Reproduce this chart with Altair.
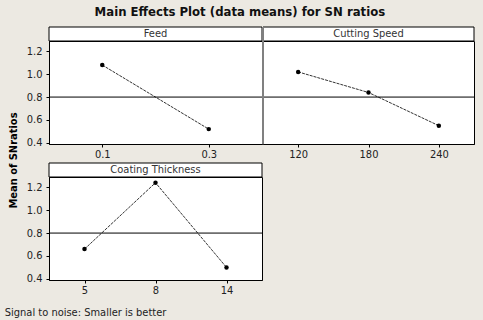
import altair as alt
import pandas as pd

# ---- data ----
feed_levels = ["0.1", "0.3"]
feed_sn = [1.08, 0.52]
speed_levels = ["120", "180", "240"]
speed_sn = [1.02, 0.84, 0.55]
coat_levels = ["5", "8", "14"]
coat_sn = [0.66, 1.24, 0.50]
grand_mean = [0.80]
y_ticks = [0.4, 0.6, 0.8, 1.0, 1.2]
y_domain = [0.39, 1.29]

FONT = "DejaVu Sans Condensed"
PLOT_H = 103
STRIP_H = 14


def panel(name, levels, values, w, show_y, divider=False):
    df = pd.DataFrame({"level": levels, "sn": values})
    x = alt.X(
        "level:O",
        sort=levels,
        scale=alt.Scale(type="point", padding=0.5),
        axis=alt.Axis(title=None, labelAngle=0, tickSize=3, labelPadding=1,
                      domainColor="black", tickColor="black"),
    )
    yscale = alt.Scale(domain=y_domain, nice=False, zero=False)
    if show_y:
        yaxis = alt.Axis(values=y_ticks, format=".1f", title=None, tickSize=3,
                         labelPadding=4, domainColor="black", tickColor="black",
                         grid=False)
    else:
        yaxis = None
    y = alt.Y("sn:Q", scale=yscale, axis=yaxis)
    base = alt.Chart(df)
    line = base.mark_line(color="#333333", strokeWidth=1, strokeDash=[3, 1]).encode(x=x, y=y)
    pts = base.mark_circle(size=20, color="black", opacity=1).encode(x=x, y=y)
    rule = alt.Chart(pd.DataFrame({"m": grand_mean})).mark_rule(
        color="black", strokeWidth=1
    ).encode(y=alt.Y("m:Q", scale=yscale, axis=yaxis))
    sdf = pd.DataFrame({"name": [name]})
    strip = alt.Chart(sdf).mark_rect(fill="white", stroke="black", strokeWidth=1).encode(
        x=alt.value(0), x2=alt.value(w), y=alt.value(-STRIP_H), y2=alt.value(0)
    )
    stext = alt.Chart(sdf).mark_text(font=FONT, fontSize=11, color="#333333",
                                     baseline="middle", align="center").encode(
        text="name:N", x=alt.value(w / 2), y=alt.value(-STRIP_H / 2)
    )
    layers = [line, rule, pts, strip, stext]
    if divider:
        layers.append(
            alt.Chart(sdf).mark_rule(color="#808080", strokeWidth=2).encode(
                x=alt.value(0), y=alt.value(-STRIP_H), y2=alt.value(PLOT_H)
            )
        )
    return alt.layer(*layers).properties(width=w, height=PLOT_H)


feed = panel("Feed", feed_levels, feed_sn, 213, True)
speed = panel("Cutting Speed", speed_levels, speed_sn, 211, False, divider=True)
coat = panel("Coating Thickness", coat_levels, coat_sn, 213, True)

top_row = alt.hconcat(feed, speed, spacing=-2)
inner = alt.vconcat(top_row, coat, spacing=2).properties(
    title=alt.TitleParams("Mean of SNratios", orient="left", anchor="middle",
                          fontSize=11, fontWeight="bold", font=FONT,
                          color="black", offset=7)
)

with_foot = alt.vconcat(inner).properties(
    title=alt.TitleParams("Signal to noise: Smaller is better", orient="bottom",
                          anchor="start", frame="bounds", dx=-3, offset=11,
                          fontSize=11, fontWeight="normal", font=FONT,
                          color="#222222")
)

chart = alt.vconcat(with_foot).properties(
    title=alt.TitleParams("Main Effects Plot (data means) for SN ratios",
                          anchor="middle", fontSize=13, fontWeight="bold",
                          font=FONT, color="#111111", offset=7),
    padding={"left": 4, "top": 5, "right": 8, "bottom": 2},
    background="#ECE9E2",
).configure_view(stroke="black", strokeWidth=1, fill="white").configure_axis(
    labelFont=FONT, labelFontSize=11, labelColor="#222222"
).configure_concat(spacing=0)

chart.save("out.html", embed_options={"renderer": "svg", "actions": False})
